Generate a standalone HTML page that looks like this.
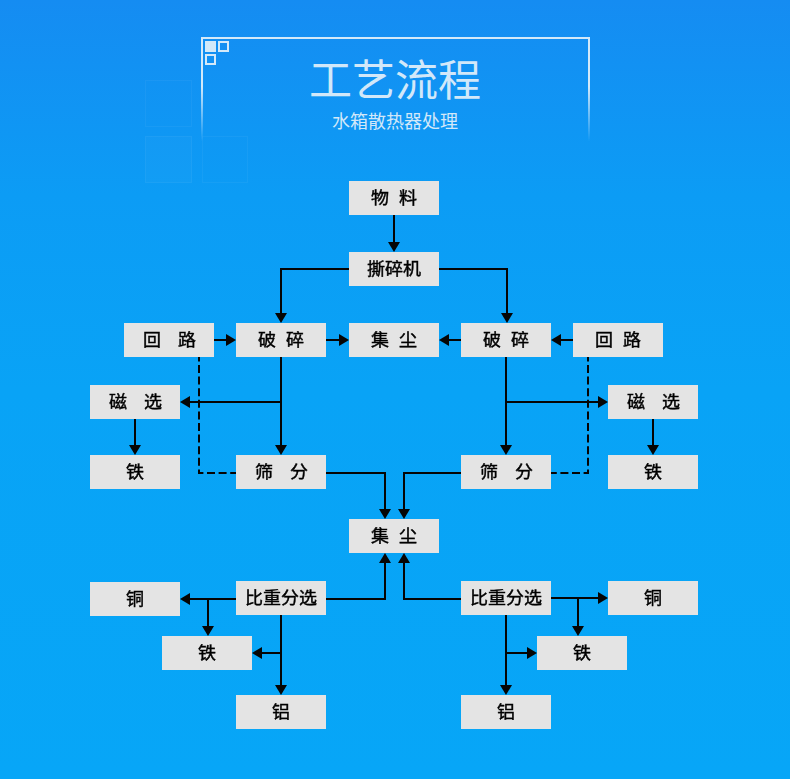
<!DOCTYPE html>
<html lang="zh-CN"><head><meta charset="utf-8">
<style>
*{margin:0;padding:0;box-sizing:border-box}
html,body{width:790px;height:779px;overflow:hidden}
body{position:relative;font-family:"Liberation Sans",sans-serif;background:linear-gradient(to bottom,#158cf2 0%,#0c9cf5 25%,#09a3f6 50%,#07a6f7 100%)}
.b{position:absolute;width:90px;height:34px;background:#e4e4e4;color:#000;font-size:18px;line-height:34px;display:flex;justify-content:center;white-space:nowrap;-webkit-text-stroke:0.45px #000}
.b i{font-style:normal;display:flex;transform:scaleY(0.93);transform-origin:50% 50%}
.s1 span+span{margin-left:9.5px}
.s2 span+span{margin-left:17px}
.t{position:absolute;left:0;width:790px;text-align:center;color:#d2e8f9;white-space:nowrap}
svg{position:absolute;left:0;top:0}
.h{fill:#050505;stroke:none}
.fr{position:absolute;left:201px;top:37px;width:389px;height:110px;border:2px solid #d3e9f9;border-bottom:none;
 -webkit-mask-image:linear-gradient(to bottom,#000 0%,#000 45%,transparent 95%);mask-image:linear-gradient(to bottom,#000 0%,#000 45%,transparent 95%)}
.sq{position:absolute;width:11px;height:11px}
.fs{position:absolute;border:1px solid rgba(255,255,255,0.045)}
</style></head><body>
<div class="fs" style="left:145px;top:80px;width:47px;height:47px"></div>
<div class="fs" style="left:145px;top:136px;width:47px;height:47px;background:rgba(255,255,255,0.025)"></div>
<div class="fs" style="left:202px;top:136px;width:46px;height:47px"></div>
<div class="fr"></div>
<div class="sq" style="left:205px;top:41px;background:#d3e9f9"></div>
<div class="sq" style="left:218px;top:41px;border:2px solid #d3e9f9"></div>
<div class="sq" style="left:205px;top:54px;border:2px solid #d3e9f9"></div>
<div class="t" style="top:56px;font-size:43px;line-height:50px">工艺流程</div>
<div class="t" style="top:111px;font-size:18px;line-height:22px">水箱散热器处理</div>

<div class="b s1" style="left:349px;top:181px"><i><span>物</span><span>料</span></i></div>
<div class="b" style="left:349px;top:252px"><i>撕碎机</i></div>
<div class="b s2" style="left:124px;top:323px"><i><span>回</span><span>路</span></i></div>
<div class="b s1" style="left:236px;top:323px"><i><span>破</span><span>碎</span></i></div>
<div class="b s1" style="left:349px;top:323px"><i><span>集</span><span>尘</span></i></div>
<div class="b s1" style="left:461px;top:323px"><i><span>破</span><span>碎</span></i></div>
<div class="b s1" style="left:573px;top:323px"><i><span>回</span><span>路</span></i></div>
<div class="b s2" style="left:90px;top:385px"><i><span>磁</span><span>选</span></i></div>
<div class="b s2" style="left:608px;top:385px"><i><span>磁</span><span>选</span></i></div>
<div class="b" style="left:90px;top:455px"><i>铁</i></div>
<div class="b s2" style="left:236px;top:455px"><i><span>筛</span><span>分</span></i></div>
<div class="b s2" style="left:461px;top:455px"><i><span>筛</span><span>分</span></i></div>
<div class="b" style="left:608px;top:455px"><i>铁</i></div>
<div class="b s1" style="left:349px;top:519px"><i><span>集</span><span>尘</span></i></div>
<div class="b" style="left:90px;top:582px"><i>铜</i></div>
<div class="b" style="left:236px;top:581px"><i>比重分选</i></div>
<div class="b" style="left:461px;top:581px"><i>比重分选</i></div>
<div class="b" style="left:608px;top:581px"><i>铜</i></div>
<div class="b" style="left:162px;top:636px"><i>铁</i></div>
<div class="b" style="left:537px;top:636px"><i>铁</i></div>
<div class="b" style="left:236px;top:695px"><i>铝</i></div>
<div class="b" style="left:461px;top:695px"><i>铝</i></div>

<svg width="790" height="779" viewBox="0 0 790 779">
<g stroke="#050505" stroke-width="2" fill="none">
<path d="M394 215 L394 243"/>
<path class="h" d="M394 252 L388 242 L400 242Z"/>
<path d="M349 269 L281 269 L281 314"/>
<path class="h" d="M281 323 L275 313 L287 313Z"/>
<path d="M439 269 L507 269 L507 314"/>
<path class="h" d="M507 323 L501 313 L513 313Z"/>
<path d="M214 340 L227 340"/>
<path class="h" d="M236 340 L226 334 L226 346Z"/>
<path d="M326 340 L340 340"/>
<path class="h" d="M349 340 L339 334 L339 346Z"/>
<path d="M461 340 L448 340"/>
<path class="h" d="M439 340 L449 334 L449 346Z"/>
<path d="M573 340 L560 340"/>
<path class="h" d="M551 340 L561 334 L561 346Z"/>
<path d="M281 357 L281 446"/>
<path class="h" d="M281 455 L275 445 L287 445Z"/>
<path d="M281 402 L189 402"/>
<path class="h" d="M180 402 L190 396 L190 408Z"/>
<path d="M506 357 L506 446"/>
<path class="h" d="M506 455 L500 445 L512 445Z"/>
<path d="M506 402 L599 402"/>
<path class="h" d="M608 402 L598 396 L598 408Z"/>
<path d="M135 419 L135 446"/>
<path class="h" d="M135 455 L129 445 L141 445Z"/>
<path d="M653 419 L653 446"/>
<path class="h" d="M653 455 L647 445 L659 445Z"/>
<path d="M326 473 L385 473 L385 510"/>
<path class="h" d="M385 519 L379 509 L391 509Z"/>
<path d="M461 473 L404 473 L404 510"/>
<path class="h" d="M404 519 L398 509 L410 509Z"/>
<path d="M326 599 L385 599 L385 562"/>
<path class="h" d="M385 553 L379 563 L391 563Z"/>
<path d="M461 599 L404 599 L404 562"/>
<path class="h" d="M404 553 L398 563 L410 563Z"/>
<path d="M236 599 L189 599"/>
<path class="h" d="M180 599 L190 593 L190 605Z"/>
<path d="M208 599 L208 627"/>
<path class="h" d="M208 636 L202 626 L214 626Z"/>
<path d="M281 615 L281 686"/>
<path class="h" d="M281 695 L275 685 L287 685Z"/>
<path d="M281 653 L261 653"/>
<path class="h" d="M252 653 L262 647 L262 659Z"/>
<path d="M551 598 L599 598"/>
<path class="h" d="M608 598 L598 592 L598 604Z"/>
<path d="M578 598 L578 627"/>
<path class="h" d="M578 636 L572 626 L584 626Z"/>
<path d="M506 615 L506 686"/>
<path class="h" d="M506 695 L500 685 L512 685Z"/>
<path d="M506 653 L528 653"/>
<path class="h" d="M537 653 L527 647 L527 659Z"/>

</g>
<g stroke="#050505" stroke-width="2" fill="none" stroke-dasharray="8 3.6" stroke-dashoffset="3.6">
<path d="M199 357V473H236"/>
<path d="M588 357V473H551"/>
</g>
</svg>
</body></html>
